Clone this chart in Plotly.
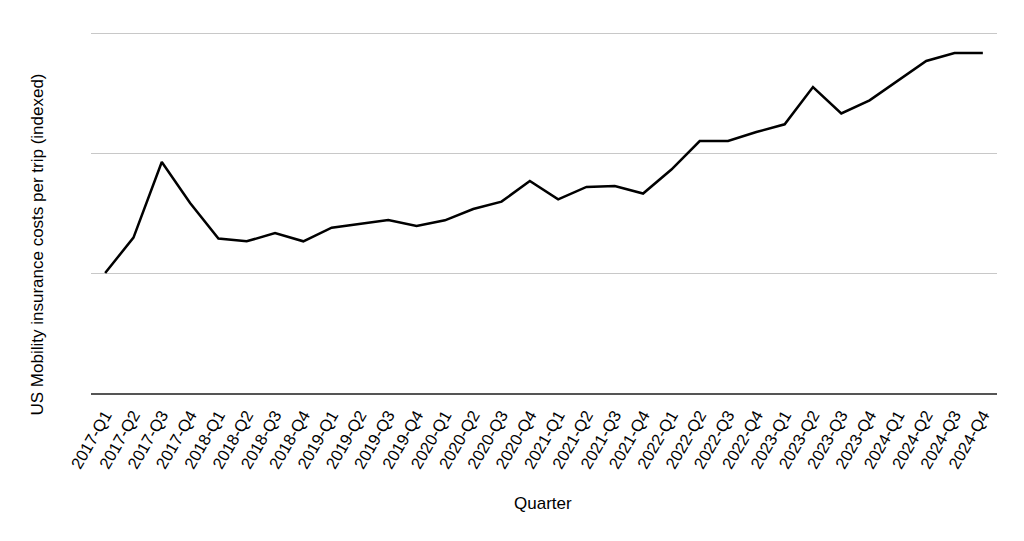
import plotly.graph_objects as go

quarters = [
    "2017-Q1", "2017-Q2", "2017-Q3", "2017-Q4",
    "2018-Q1", "2018-Q2", "2018-Q3", "2018-Q4",
    "2019-Q1", "2019-Q2", "2019-Q3", "2019-Q4",
    "2020-Q1", "2020-Q2", "2020-Q3", "2020-Q4",
    "2021-Q1", "2021-Q2", "2021-Q3", "2021-Q4",
    "2022-Q1", "2022-Q2", "2022-Q3", "2022-Q4",
    "2023-Q1", "2023-Q2", "2023-Q3", "2023-Q4",
    "2024-Q1", "2024-Q2", "2024-Q3", "2024-Q4",
]

# indexed cost per trip (2017-Q1 = 100)
cost_index = [
    100, 129.5, 192.5, 158.3,
    128.7, 126.4, 133.3, 126.4,
    137.8, 140.8, 144.2, 139.2,
    143.9, 153.3, 159.5, 176.7,
    161.4, 171.7, 172.5, 166.2,
    186.2, 210, 210, 217.5,
    223.9, 255, 233, 243.9,
    260, 276.7, 283.3, 283.3,
]

grid_vals = [0, 100, 200, 300]

fig = go.Figure()
fig.add_trace(go.Scatter(
    x=quarters,
    y=cost_index,
    mode="lines",
    line=dict(color="black", width=2.5),
    hoverinfo="x+y",
))

# page body adds 8px, so margins are shifted to compensate
fig.update_layout(
    width=1024,
    height=541,
    margin=dict(l=83, r=35, t=19, b=156),
    plot_bgcolor="white",
    paper_bgcolor="white",
    font=dict(family="Liberation Sans, Arial, sans-serif", size=16, color="#000"),
    showlegend=False,
)

fig.update_xaxes(
    type="category",
    range=[-0.5, len(quarters) - 0.5],
    tickangle=-60,
    tickfont=dict(size=16.5, color="#000"),
    ticklabelstandoff=4,
    showgrid=False,
    showline=True,
    linecolor="#555",
    linewidth=2,
    ticks="",
)

# top of range left a bit above 300 so that gridline is drawn
fig.update_yaxes(
    range=[0, 305],
    tickvals=grid_vals,
    showticklabels=False,
    showgrid=True,
    gridcolor="#c8c8c8",
    gridwidth=1,
    zeroline=False,
    showline=False,
    ticks="",
)

fig.add_annotation(
    text="Quarter", xref="paper", yref="paper",
    x=0.499, y=-0.301, xanchor="center", yanchor="middle",
    showarrow=False,
    font=dict(size=17, color="#000"),
)
fig.add_annotation(
    text="US Mobility insurance costs per trip (indexed)",
    xref="paper", yref="paper",
    x=-0.0591, y=0.407, xanchor="center", yanchor="middle",
    textangle=-90, showarrow=False,
    font=dict(size=17, color="#000"),
)

fig.write_html("out.html")
